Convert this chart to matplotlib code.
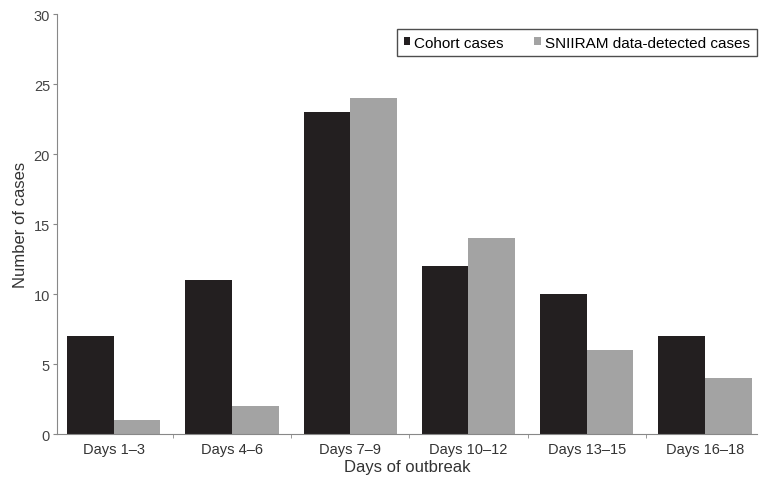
import matplotlib.pyplot as plt
import numpy as np

plt.rcParams['font.family'] = ['Liberation Sans', 'DejaVu Sans']

categories = ["Days 1\u20133", "Days 4\u20136", "Days 7\u20139", "Days 10\u201312", "Days 13\u201315", "Days 16\u201318"]
cohort = [7, 11, 23, 12, 10, 7]
sniiram = [1, 2, 24, 14, 6, 4]

fig = plt.figure(figsize=(7.6, 4.85), dpi=100)
ax = fig.add_axes([0.075, 0.103, 0.921, 0.866])

x = np.arange(len(categories))
w = 0.395
ax.bar(x - w / 2, cohort, w, color='#231f20', label='Cohort cases')
ax.bar(x + w / 2, sniiram, w, color='#a3a3a3', label='SNIIRAM data-detected cases')

ax.set_xlim(-0.48, 5.44)
ax.set_ylim(0, 30)
ax.set_yticks(range(0, 31, 5))
ax.set_xticks(x)
ax.set_xticklabels(categories)
ax.set_xticks(np.arange(0.5, len(categories) - 0.5), minor=True)
ax.tick_params(axis='x', which='major', length=0, labelsize=10.5, colors='#333333', pad=6)
ax.tick_params(axis='x', which='minor', length=3, color='#888888')
ax.tick_params(axis='y', length=3, labelsize=10.5, colors='#888888', labelcolor='#444444', pad=2)

for s in ['top', 'right']:
    ax.spines[s].set_visible(False)
ax.spines['left'].set_color('#888888')
ax.spines['bottom'].set_color('#888888')

ax.set_xlabel('Days of outbreak', fontsize=12, color='#333333', labelpad=2)
ax.set_ylabel('Number of cases', fontsize=12, color='#333333', labelpad=4)

leg = ax.legend(loc='upper right', bbox_to_anchor=(1.0, 0.965), ncol=2, fontsize=11,
                frameon=True, fancybox=False, edgecolor='#222222', handlelength=0.4,
                handleheight=0.4, handletextpad=0.3, columnspacing=2.0, borderpad=0.45,
                borderaxespad=0)
leg.get_frame().set_linewidth(1.0)

fig.savefig('out.png', dpi=100)
